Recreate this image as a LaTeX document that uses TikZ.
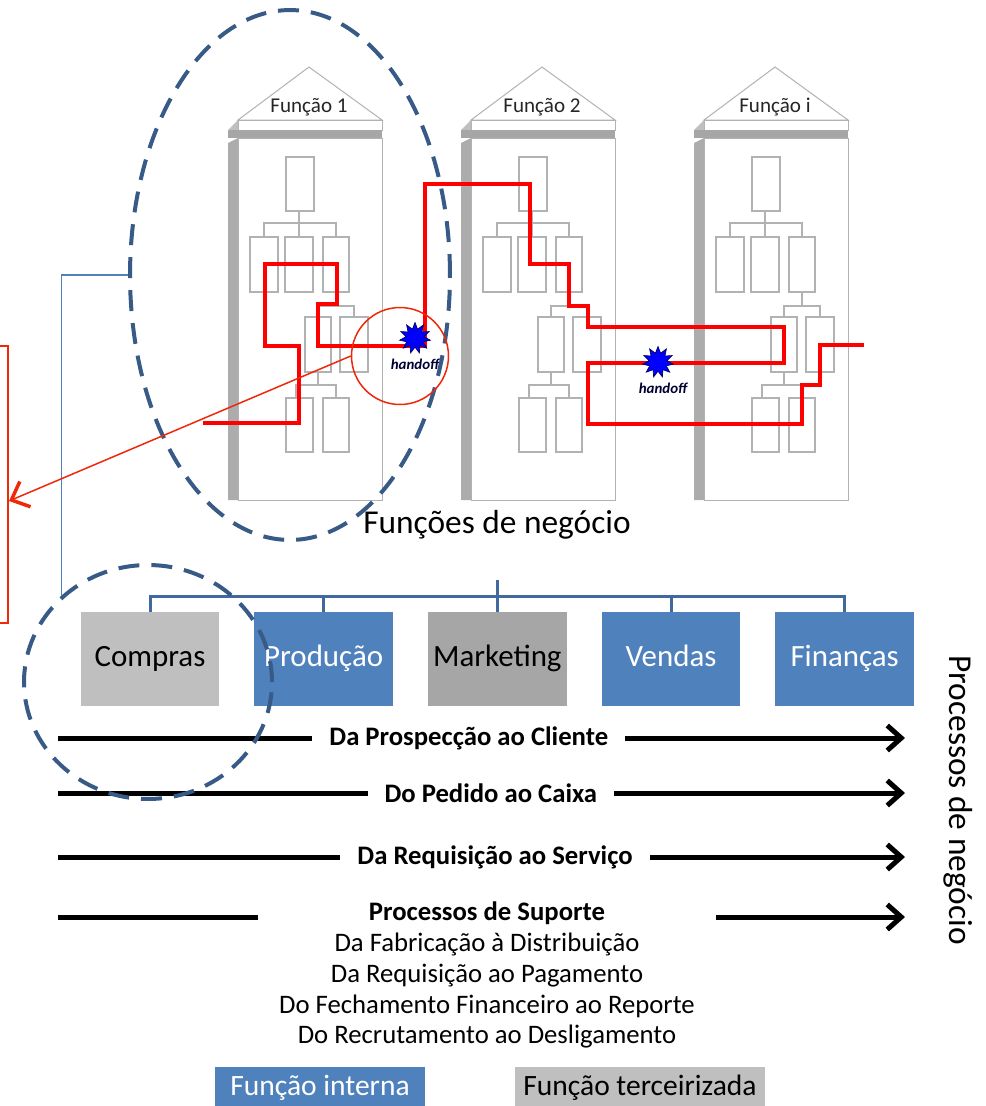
\documentclass[tikz,border=0pt]{standalone}
\usepackage{fontspec}
\setmainfont{Carlito}
\usetikzlibrary{shapes.geometric,positioning,arrows.meta}

\definecolor{azulfuncao}{RGB}{79,129,189}
\definecolor{azullinha}{RGB}{65,105,160}
\definecolor{azultraco}{RGB}{55,90,135}
\definecolor{cinzaclaro}{RGB}{191,191,191}
\definecolor{cinzamedio}{RGB}{166,166,166}
\definecolor{vermelhonota}{RGB}{240,40,10}

\begin{document}
\begin{tikzpicture}[x=0.02cm, y=-0.02cm,
  funcao/.style={rectangle, minimum width=2.78cm, minimum height=1.88cm, inner sep=0pt,
    text height=0.9em, text depth=0.08em, font=\fontsize{17.6}{20}\selectfont},
  interna/.style={funcao, fill=azulfuncao, text=white},
  terceira/.style={funcao, fill=cinzaclaro},
  arvore/.style={draw=azullinha, line width=0.06cm},
  processo/.style={line width=0.1cm, -{Straight Barb[length=0.28cm, width=0.5cm]}},
  rotulo/.style={fill=white, inner xsep=0.34cm, inner ysep=1pt, font=\fontsize{15.2}{18}\selectfont\bfseries},
  fluxo/.style={draw=red, line width=0.08cm},
  destaque/.style={draw=azultraco, line width=0.08cm, dash pattern=on 0.42cm off 0.24cm, inner sep=0pt},
  caixinha/.style={draw=gray!60, line width=0.025cm},
  parede/.style={fill=white, draw=gray!60, line width=0.02cm},
  handoff/.style={star, star points=11, star point ratio=1.7, fill=blue, draw=blue!40!black, minimum size=0.62cm, inner sep=0pt},
  nota/.style={font=\fontsize{8.5}{10}\selectfont\bfseries\itshape, text=blue!20!black},
]
\useasboundingbox (0,0) rectangle (985,1106);
\clip (0,0) rectangle (985,1106);

% --- pillars: one per business function ---
\foreach \cx/\idx in {309/1, 542/2, 775/i} {
  \begin{scope}[shift={(\cx,0)}]
    \filldraw[parede] (-71,120) -- (0,67) -- (73,120) -- cycle;
    \filldraw[parede] (-71,120) rectangle (73,130);
    \fill[gray!50] (-81,130) -- (-71,120) -- (-71,130) -- cycle;
    \fill[gray!70] (-81,130) rectangle (73,138);
    \fill[gray!65] (-81,143) -- (-71,138) -- (-71,500) -- (-81,500) -- cycle;
    \filldraw[parede] (-71,138) rectangle (73,500);
    \node[font=\fontsize{12}{14}\selectfont, text=black!85] (pilar\idx) at (0,107) {Função \idx};
    % org chart inside the pillar
    \foreach \xa/\ya/\xb/\yb in {-23/157/5/211, -59/237/-31/292, -24/237/4/292, 14/237/40/292,
                                 -4/317/22/372, 31/317/59/372, -23/398/4/452, 14/398/40/452}
      \draw[caixinha] (\xa,\ya) rectangle (\xb,\yb);
    \draw[caixinha] (-10,211) -- (-10,237) (-45,237) -- (-45,223) -- (27,223) -- (27,237);
    \draw[caixinha] (27,292) -- (27,306) (9,317) -- (9,306) -- (45,306) -- (45,317);
    \draw[caixinha] (9,372) -- (9,385) (-13,398) -- (-13,385) -- (27,385) -- (27,398);
  \end{scope}
}

% --- process flow crossing the functions ---
\coordinate (entrada) at (203,423);
\coordinate (saida) at (864,345);
\draw[fluxo] (entrada) -| (299,346) -| (265,264) -| (337,304) -| (318,346) -| (425,184)
  -| (530,264) -| (569,306) -| (588,327) -| (784,363) -| (588,424) -| (802,385) -| (820,345) -- (saida);

\node[handoff] (h1) at (415,338) {};
\node[nota] (n1) at (415,364) {handoff};
\node[handoff] (h2) at (658,362) {};
\node[nota] (n2) at (663,388) {handoff};

\node[font=\fontsize{19}{22}\selectfont] (funcoes) at (497,525) {Funções de negócio};

% --- functions of the company ---
\node[terceira] (compras) at (150,659) {Compras};
\node[interna, right=0.68cm of compras] (producao) {Produção};
\node[funcao, fill=cinzamedio, right=0.68cm of producao] (marketing) {Marketing};
\node[interna, right=0.68cm of marketing] (vendas) {Vendas};
\node[interna, right=0.68cm of vendas] (financas) {Finanças};

\coordinate (raiz) at (497,580);
\draw[arvore] (raiz) -- ++(0,16) coordinate (barra);
\foreach \f in {compras,producao,marketing,vendas,financas}
  \draw[arvore] (barra) -| (\f.north);

% --- end-to-end processes ---
\coordinate (p1i) at (58,738);  \coordinate (p1f) at (905,738);
\coordinate (p2i) at (58,793);  \coordinate (p2f) at (905,793);
\coordinate (p3i) at (58,857);  \coordinate (p3f) at (905,857);
\coordinate (p4i) at (58,917);  \coordinate (p4f) at (905,917);
\draw[processo] (p1i) -- (p1f) node[rotulo, pos=0.485] (p1) {Da Prospecção ao Cliente};
\draw[processo] (p2i) -- (p2f) node[rotulo, pos=0.511] (p2) {Do Pedido ao Caixa};
\draw[processo] (p3i) -- (p3f) node[rotulo, pos=0.516] (p3) {Da Requisição ao Serviço};
\draw[processo] (p4i) -- (p4f);
\node[fill=white, align=center, inner xsep=0.42cm, font=\fontsize{15.2}{17.6}\selectfont] (suporte) at (487,975)
  {\textbf{Processos de Suporte}\\Da Fabricação à Distribuição\\Da Requisição ao Pagamento\\
   Do Fechamento Financeiro ao Reporte\\Do Recrutamento ao Desligamento};

\node[rotate=-90, font=\fontsize{19}{22}\selectfont] (processos) at (958,800) {Processos de negócio};

% --- legend ---
\node[interna, minimum width=4.2cm, minimum height=0.84cm, font=\fontsize{16.8}{20}\selectfont] (leg1) at (320,1088) {Função interna};
\node[terceira, minimum width=5cm, minimum height=0.84cm, font=\fontsize{16.8}{20}\selectfont] (leg2) at (640,1088) {Função terceirizada};

% --- dashed highlights and the call-out ---
\node[ellipse, destaque, minimum width=6.4cm, minimum height=10.6cm] (grupo) at (290,275) {};
\node[ellipse, destaque, minimum width=4.96cm, minimum height=4.68cm] (terceirizada) at (148,682) {};
\draw[draw=azulfuncao, line width=0.03cm] (grupo.west) -| (terceirizada.135);

\node[circle, draw=vermelhonota, line width=0.03cm, minimum size=1.94cm] (foco) at (400,356) {};
\node[draw=vermelhonota, line width=0.04cm, minimum width=0.56cm, minimum height=5.54cm, inner sep=0pt] (quadro) at (-6,484.5) {};
\draw[draw=vermelhonota, line width=0.03cm, -{Straight Barb[length=0.3cm, width=0.55cm, line width=0.07cm]}]
  (foco.west) -- ([yshift=-0.33cm]quadro.east);

\end{tikzpicture}
\end{document}
